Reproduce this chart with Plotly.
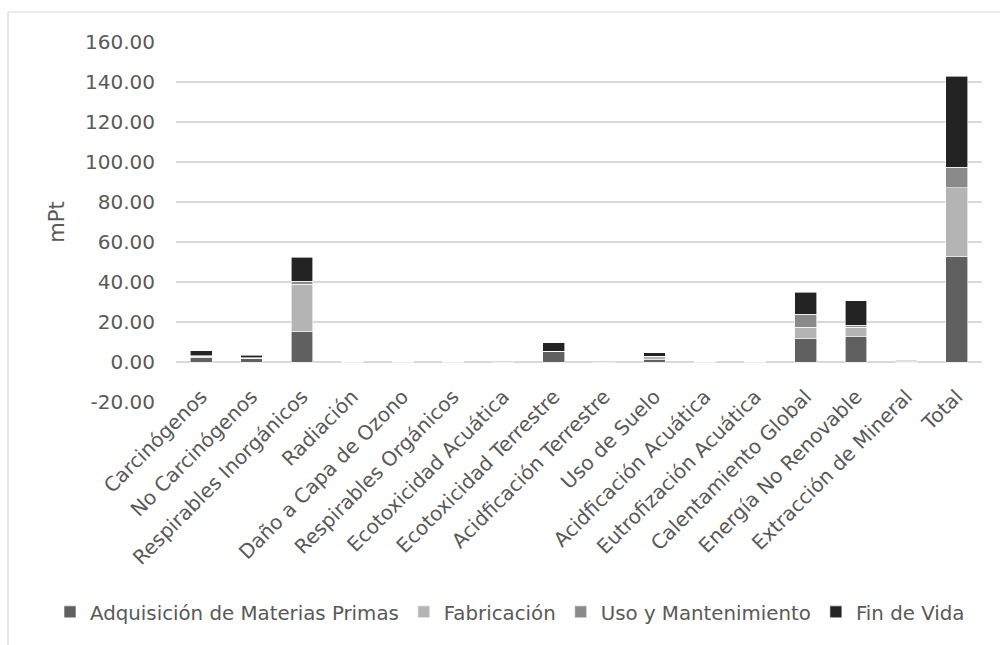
import plotly.graph_objects as go

categories = ["Carcinógenos", "No Carcinógenos", "Respirables Inorgánicos", "Radiación",
              "Daño a Capa de Ozono", "Respirables Orgánicos", "Ecotoxicidad Acuática",
              "Ecotoxicidad Terrestre", "Acidficación Terrestre", "Uso de Suelo",
              "Acidficación Acuática", "Eutrofización Acuática", "Calentamiento Global",
              "Energía No Renovable", "Extracción de Mineral", "Total"]

adquisicion = [2.3, 1.8, 15.5, 0.1, 0.05, 0.05, 0.1, 5.2, 0.1, 1.4, 0.02, 0.02, 12.0, 13.0, 0.2, 52.8]
fabricacion = [0.6, 0.2, 23.3, 0.2, 0.15, 0.1, 0.15, 0.1, 0.15, 1.3, 0.02, 0.02, 5.3, 4.3, 0.5, 34.3]
uso_mant = [0.3, 0.1, 1.7, 0.0, 0.0, 0.0, 0.0, 0.1, 0.0, 0.3, 0.0, 0.0, 6.5, 1.0, 0.05, 10.3]
fin_vida = [2.5, 1.2, 12.0, 0.05, 0.05, 0.05, 0.05, 4.3, 0.05, 1.7, 0.01, 0.01, 11.0, 12.3, 0.05, 45.5]

series_names = ["Adquisición de Materias Primas", "Fabricación", "Uso y Mantenimiento", "Fin de Vida"]
series_values = [adquisicion, fabricacion, uso_mant, fin_vida]
series_colors = ["#606060", "#b4b4b4", "#8a8a8a", "#232323"]

y_ticks = [-20, 0, 20, 40, 60, 80, 100, 120, 140, 160]

fig = go.Figure()
for name, vals, col in zip(series_names, series_values, series_colors):
    fig.add_trace(go.Bar(x=categories, y=vals, name=name,
                         marker=dict(color=col, line=dict(color="#ffffff", width=0.6))))

font_fam = "DejaVu Sans"
tick_font = dict(family=font_fam, size=20, color="#595959")

fig.update_layout(
    barmode="stack",
    bargap=0.57,
    width=1000, height=645,
    margin=dict(l=176, r=18, t=42, b=243),
    paper_bgcolor="white", plot_bgcolor="white",
    showlegend=True,
    legend=dict(orientation="h", xref="paper", yref="paper",
                x=(50 - 176) / 806, xanchor="left", y=(402 - 612) / 360, yanchor="middle",
                font=dict(family=font_fam, size=19.8, color="#595959"),
                itemwidth=30, traceorder="normal", itemclick=False),
    xaxis=dict(tickangle=-45, tickfont=dict(family=font_fam, size=20, color="#595959"),
               showgrid=False, showline=False, ticks="", ticklabelstandoff=-22),
    yaxis=dict(range=[-20, 160], tickvals=y_ticks,
               ticktext=[f"{v:.2f}" for v in y_ticks],
               tickfont=tick_font, showgrid=True, gridcolor="#d9d9d9", gridwidth=1.5,
               zeroline=False, showline=False, ticks="", ticklabelstandoff=20,
               title=dict(text="mPt", font=dict(family=font_fam, size=21, color="#595959"),
                          standoff=14)),
    shapes=[
        dict(type="line", xref="paper", yref="paper",
             x0=(8 - 176) / 806, x1=(1010 - 176) / 806, y0=1 + 30 / 360, y1=1 + 30 / 360,
             line=dict(color="#d9d9d9", width=1.2)),
        dict(type="line", xref="paper", yref="paper",
             x0=(8 - 176) / 806, x1=(8 - 176) / 806, y0=1 + 30 / 360, y1=(402 - 660) / 360,
             line=dict(color="#d9d9d9", width=1.2)),
    ],
)

fig.write_html("out.html", config={"displayModeBar": False},
               post_script="document.body.style.margin='0';")
